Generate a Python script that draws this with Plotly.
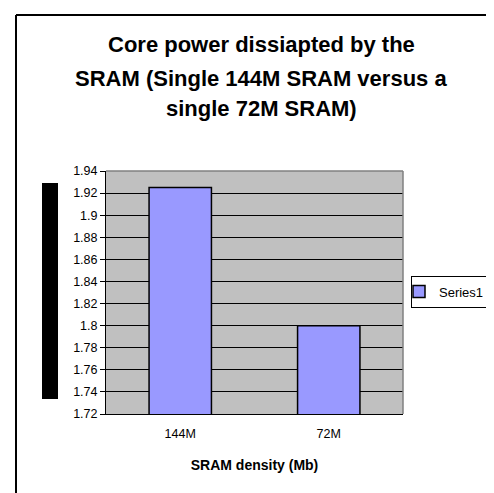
import plotly.graph_objects as go

categories = ["144M", "72M"]
values = [1.925, 1.80]
series_name = "Series1"
title_lines = ["Core power dissiapted by the",
               "SRAM (Single 144M SRAM versus a",
               "single 72M SRAM)"]
x_title = "SRAM density (Mb)"

W, H = 494, 493
L, R, T, B = 98, 395, 163, 406  # plot area pixel edges


def px(x):
    return (x - L) / (R - L)


def py(y):
    return (B - y) / (B - T)


fig = go.Figure()
fig.add_trace(go.Bar(
    x=categories, y=values, name=series_name,
    marker=dict(color="#9999ff", line=dict(color="black", width=1.5)),
    showlegend=True,
))

fig.update_layout(
    width=W, height=H,
    margin=dict(l=L, r=W - R, t=T, b=H - B, pad=0, autoexpand=False),
    paper_bgcolor="white",
    plot_bgcolor="#c0c0c0",
    bargap=0.58,
    font=dict(family="Arial, Liberation Sans, sans-serif", size=12, color="black"),
    showlegend=True,
    legend=dict(
        xref="container", yref="container",
        x=403 / W, xanchor="left", y=1 - 283.5 / H, yanchor="middle",
        bordercolor="black", borderwidth=1, bgcolor="white",
        font=dict(size=13), itemwidth=30, indentation=-13,
    ),
)

fig.update_xaxes(
    showline=True, linecolor="black", linewidth=1,
    ticks="", showgrid=False,
    tickfont=dict(size=12.5), ticklabelstandoff=8,
    title=dict(text=x_title, font=dict(size=14, weight="bold"), standoff=20),
)
fig.update_yaxes(
    range=[1.72, 1.94], dtick=0.02, tick0=1.72,
    showline=True, linecolor="black", linewidth=1,
    showgrid=True, gridcolor="black", gridwidth=1,
    ticks="outside", ticklen=5, tickcolor="black",
    tickfont=dict(size=12.5),
    zeroline=False,
)

# plot area top/right border (gray)
fig.add_shape(type="line", xref="paper", yref="paper", x0=0, x1=1, y0=1, y1=1,
              line=dict(color="#808080", width=1.5))
fig.add_shape(type="line", xref="paper", yref="paper", x0=1, x1=1, y0=0, y1=1,
              line=dict(color="#808080", width=1.5))

# black block left of the axis (rendered y-axis title placeholder)
fig.add_shape(type="rect", xref="paper", yref="paper",
              x0=px(34), x1=px(50), y0=py(391), y1=py(175),
              fillcolor="black", line=dict(width=0))

# outer chart border (top and left visible)
fig.add_shape(type="line", xref="paper", yref="paper",
              x0=px(8), x1=px(500), y0=py(7), y1=py(7),
              line=dict(color="black", width=2))
fig.add_shape(type="line", xref="paper", yref="paper",
              x0=px(8), x1=px(8), y0=py(7), y1=py(500),
              line=dict(color="black", width=2))

# title lines
for line, yc in zip(title_lines, [37, 71, 100]):
    fig.add_annotation(
        text=f"<b>{line}</b>", xref="paper", yref="paper",
        x=px(253), y=py(yc), xanchor="center", yanchor="middle",
        showarrow=False, font=dict(size=22, color="black"),
    )

fig.write_html("out.html")
